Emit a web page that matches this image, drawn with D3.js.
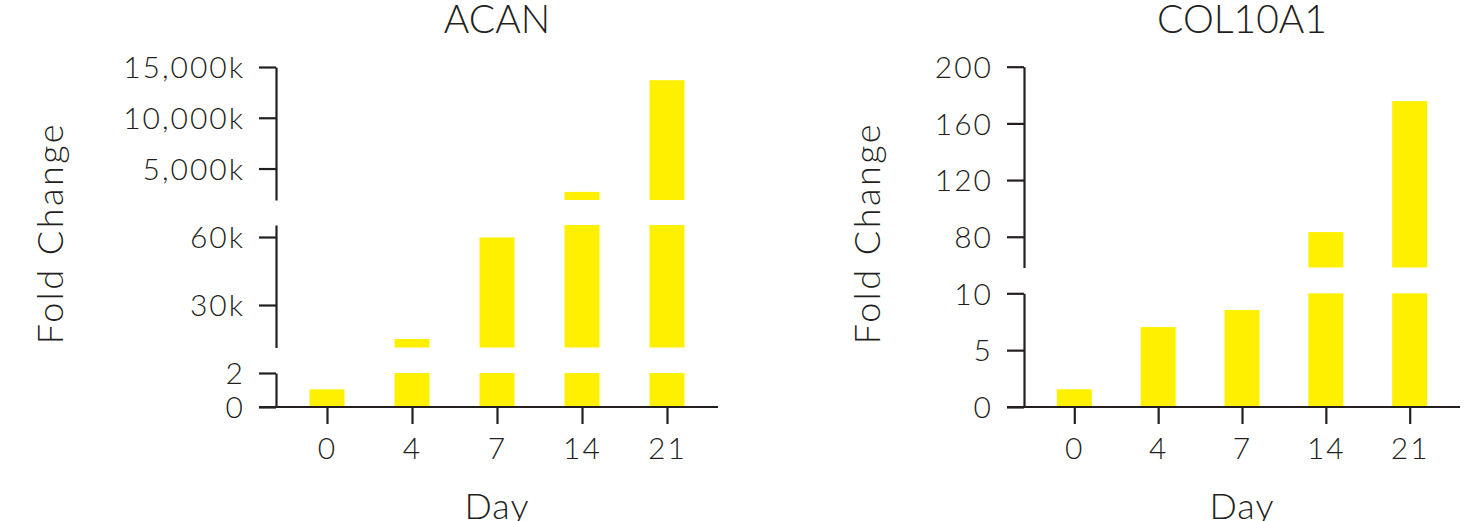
<!DOCTYPE html>
<html><head><meta charset="utf-8">
<script src="https://cdn.jsdelivr.net/npm/d3@7"></script>
<style>
html,body{margin:0;padding:0;background:#fff;}
svg text{font-family:Lato,"Open Sans",sans-serif;font-weight:300;fill:#231f20;}
</style></head>
<body><svg id="c" width="1473" height="521"></svg>
<script>
const categories = ["0","4","7","14","21"];
const acanValues = [1.04, 15000, 59800, 2700000, 13700000];
const col10a1Values = [1.56, 7.03, 8.53, 83.3, 175.7];
const acanSegments = [[0, 2], [11250, 65300], [1900000, 15000000]];
const acanTicks = [[0, 2], [30000, 60000], [5000000, 10000000, 15000000]];
const colSegments = [[0, 10], [58.3, 200]];
const colTicks = [[0, 5, 10], [80, 120, 160, 200]];
const titles = ["ACAN", "COL10A1"];
const yTitle = "Fold Change";
const xTitle = "Day";

const svg = d3.select("#c");
const ink = "#231f20", barColor = "#FFF000";
const FF = 'Lato, "Open Sans", sans-serif';
const kfmt = d => d >= 1000 ? d3.format(",")(d / 1000) + "k" : String(d);

function styleTicks(sel) {
  sel.attr("font-size", 30).style("font-family", FF).style("font-weight", 300).style("letter-spacing", "2px");
}

function panel(cfg) {
  const g = svg.append("g");
  const x = d3.scalePoint().domain(categories).range([cfg.x0, cfg.x1]).padding(0.6);
  const bw = 35;
  cfg.segments.forEach((dom, i) => {
    const [yb, yt] = cfg.ranges[i];
    const y = d3.scaleLinear().domain(dom).range([yb, yt]);
    g.append("g").selectAll("rect").data(cfg.values.map((v, j) => ({c: categories[j], v})))
      .join("rect")
      .filter(d => d.v > dom[0])
      .attr("x", d => x(d.c) - bw / 2)
      .attr("width", bw)
      .attr("y", d => y(Math.min(d.v, dom[1])))
      .attr("height", d => yb - y(Math.min(d.v, dom[1])))
      .attr("fill", barColor);
    const ax = g.append("g").attr("transform", `translate(${cfg.x0},0)`)
      .call(d3.axisLeft(y).tickValues(cfg.ticks[i]).tickFormat(kfmt).tickSize(17).tickPadding(14).tickSizeOuter(0));
    ax.select(".domain").attr("stroke", ink).attr("stroke-width", 2.2);
    ax.selectAll(".tick line").attr("stroke", ink).attr("stroke-width", 2.2);
    ax.selectAll(".tick text").attr("dy", "0.36em").call(styleTicks);
  });
  const xa = g.append("g").attr("transform", `translate(0,407)`)
    .call(d3.axisBottom(x).tickSize(17).tickPadding(14).tickSizeOuter(0));
  xa.select(".domain").attr("d", `M${cfg.x0 - 17},0H${cfg.x1}`).attr("stroke", ink).attr("stroke-width", 2.2);
  xa.selectAll(".tick line").attr("stroke", ink).attr("stroke-width", 2.2);
  xa.selectAll(".tick text").attr("dy", "0.71em").call(styleTicks);
  const cx = (cfg.x0 + cfg.x1) / 2;
  g.append("text").attr("x", cx).attr("y", 33).attr("text-anchor", "middle").attr("font-size", 39).text(cfg.title);
  g.append("text").attr("x", cx).attr("y", 519).attr("text-anchor", "middle").attr("font-size", 36)
    .style("letter-spacing", "1px").text(xTitle);
  g.append("text").attr("transform", `translate(${cfg.yTitleX},233) rotate(-90)`).attr("text-anchor", "middle")
    .attr("font-size", 36).style("letter-spacing", "2.5px").text(yTitle);
}

panel({x0: 276, x1: 718, values: acanValues, segments: acanSegments, ticks: acanTicks,
  ranges: [[407, 373], [347.5, 225], [200, 67]], title: titles[0], yTitleX: 63});
panel({x0: 1024, x1: 1460, values: col10a1Values, segments: colSegments, ticks: colTicks,
  ranges: [[407, 293.3], [267.5, 66.7]], title: titles[1], yTitleX: 880});
</script></body></html>
